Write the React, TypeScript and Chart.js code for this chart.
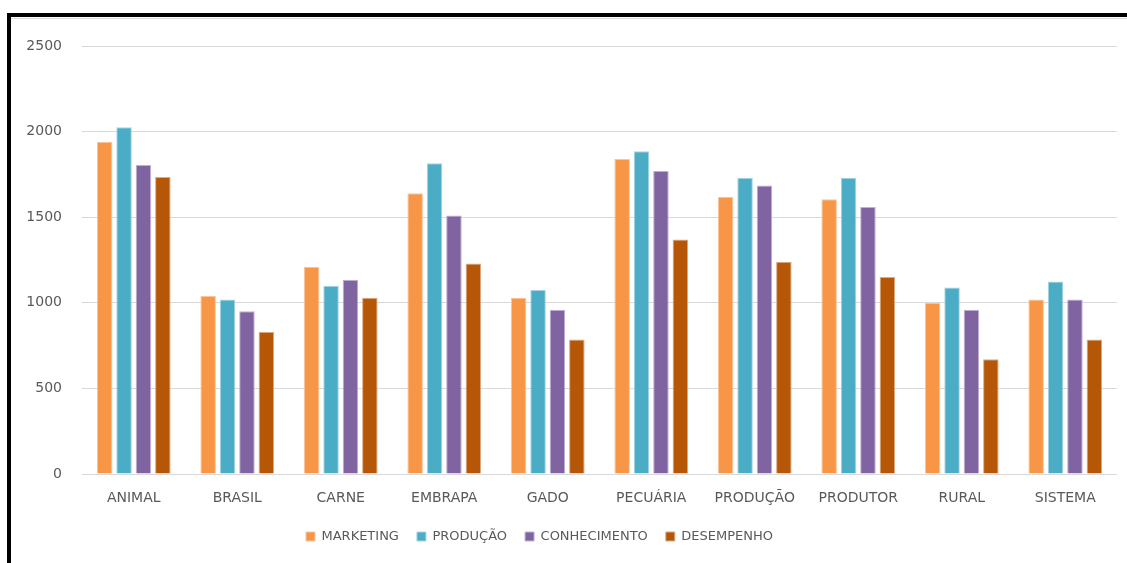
import React, { useEffect, useRef } from "react";
import { Chart, registerables } from "chart.js";

Chart.register(...registerables);

const categories = ["ANIMAL", "BRASIL", "CARNE", "EMBRAPA", "GADO", "PECUÁRIA", "PRODUÇÃO", "PRODUTOR", "RURAL", "SISTEMA"];
const marketing = [1940, 1040, 1210, 1640, 1030, 1840, 1620, 1605, 1000, 1020];
const producao = [2025, 1020, 1100, 1815, 1075, 1885, 1730, 1730, 1090, 1125];
const conhecimento = [1805, 950, 1135, 1510, 960, 1770, 1685, 1560, 960, 1020];
const desempenho = [1735, 830, 1030, 1230, 785, 1370, 1240, 1150, 670, 785];
const seriesNames = ["MARKETING", "PRODUÇÃO", "CONHECIMENTO", "DESEMPENHO"];
const yTicks = [0, 500, 1000, 1500, 2000, 2500];

const colors = ["#F79646", "#4BACC6", "#8064A2", "#B65708"];
const borders = ["#FBC49A", "#A5D5E2", "#C0B1D2", "#DBA983"];

const FONT = "'DejaVu Sans', sans-serif";

const legendShift = {
  id: "legendShift",
  afterLayout(chart: any) {
    const l = chart.legend;
    if (l) {
      l.left -= 19;
      l.right -= 19;
    }
  },
};

export default function App() {
  const ref = useRef<HTMLCanvasElement | null>(null);
  useEffect(() => {
    if (!ref.current) return;
    const values = [marketing, producao, conhecimento, desempenho];
    const chart = new Chart(ref.current, {
      type: "bar",
      data: {
        labels: categories,
        datasets: seriesNames.map((name, i) => ({
          label: name,
          data: values[i],
          backgroundColor: colors[i],
          borderColor: borders[i],
          borderWidth: 1,
          categoryPercentage: 0.75,
          barPercentage: 0.8,
        })),
      },
      plugins: [legendShift],
      options: {
        responsive: false,
        maintainAspectRatio: false,
        animation: false,
        devicePixelRatio: 1,
        layout: { padding: { top: 46, right: 10, left: 0, bottom: 10 } },
        plugins: {
          tooltip: { enabled: false },
          legend: {
            position: "bottom",
            labels: {
              boxWidth: 9,
              boxHeight: 9,
              padding: 18,
              color: "#595959",
              font: { family: FONT, size: 13 },
            },
          },
        },
        scales: {
          x: {
            grid: { display: false },
            border: { display: false },
            ticks: { color: "#595959", font: { family: FONT, size: 14 }, padding: 8 },
            afterFit: (s: any) => { s.height = 38; },
          },
          y: {
            min: 0,
            max: 2500,
            afterBuildTicks: (s: any) => { s.ticks = yTicks.map((v) => ({ value: v })); },
            grid: { color: "#d9d9d9", drawTicks: false, lineWidth: 1 },
            border: { display: false },
            ticks: {
              color: "#595959",
              font: { family: FONT, size: 14 },
              padding: 20,
              callback: (v: any) => String(v),
            },
            afterFit: (s: any) => { s.width = 82; },
          },
        },
      },
    });
    return () => chart.destroy();
  }, []);
  return (
    <div style={{ position: "fixed", left: 0, top: 0, width: 1127, height: 563, background: "#fff", overflow: "hidden" }}>
      <canvas ref={ref} width={1127} height={563} style={{ position: "absolute", left: 0, top: 0, width: 1127, height: 563 }} />
      <div style={{ position: "absolute", left: 7, top: 13, width: 1120, height: 4, background: "#000" }} />
      <div style={{ position: "absolute", left: 7, top: 13, width: 4, height: 550, background: "#000" }} />
      <div style={{ position: "absolute", left: 11, top: 18, width: 1116, height: 1, background: "#d9d9d9" }} />
    </div>
  );
}
